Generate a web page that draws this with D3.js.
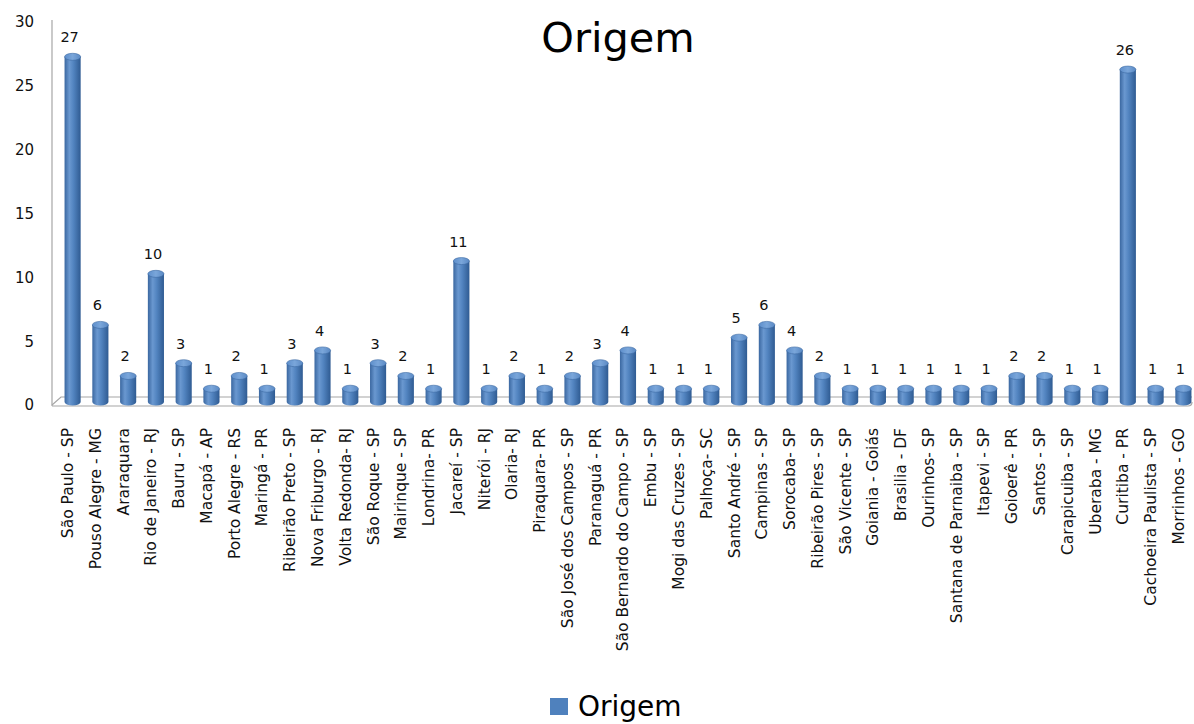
<!DOCTYPE html>
<html>
<head>
<meta charset="utf-8">
<script src="https://cdn.jsdelivr.net/npm/d3@7"></script>
<style>
  html, body { margin: 0; padding: 0; background: #fff; }
  svg { display: block; font-family: "DejaVu Sans", sans-serif; }
</style>
</head>
<body>
<svg id="chart" width="1194" height="724"></svg>
<script>
// Cities of origin and their counts
const categories = [
  "São Paulo - SP", "Pouso Alegre - MG", "Araraquara", "Rio de Janeiro - RJ",
  "Bauru - SP", "Macapá - AP", "Porto Alegre - RS", "Maringá - PR",
  "Ribeirão Preto - SP", "Nova Friburgo - RJ", "Volta Redonda- RJ", "São Roque - SP",
  "Mairinque - SP", "Londrina- PR", "Jacareí - SP", "Niterói - RJ",
  "Olaria- RJ", "Piraquara- PR", "São José  dos Campos - SP", "Paranaguá - PR",
  "São Bernardo do Campo - SP", "Embu - SP", "Mogi das Cruzes - SP", "Palhoça- SC",
  "Santo André - SP", "Campinas - SP", "Sorocaba- SP", "Ribeirão Pires - SP",
  "São Vicente - SP", "Goiania - Goiás", "Brasilia - DF", "Ourinhos- SP",
  "Santana de Parnaiba - SP", "Itapevi - SP", "Goioerê - PR", "Santos - SP",
  "Carapicuiba - SP", "Uberaba - MG", "Curitiba - PR", "Cachoeira Paulista - SP",
  "Morrinhos - GO"
];
const values = [
  27, 6, 2, 10, 3, 1, 2, 1, 3, 4, 1, 3, 2, 1, 11, 1, 2, 1, 2, 3,
  4, 1, 1, 1, 5, 6, 4, 2, 1, 1, 1, 1, 1, 1, 2, 2, 1, 1, 26, 1, 1
];
const yTicks = [0, 5, 10, 15, 20, 25, 30];
const seriesName = "Origem";

const svg = d3.select("#chart");

// Axis frame
const plotLeft = 52, plotRight = 1192, plotBottom = 405, plotTop = 22;
const depth = 7; // offset of the back plane (pseudo-3D floor)

const x = d3.scaleBand()
  .domain(categories)
  .range([59, 1197])
  .paddingInner(0.42)
  .paddingOuter(0.2);

const y = d3.scaleLinear().domain([0, 30]).range([plotBottom, plotTop]);

// Gradients for the cylinders
const defs = svg.append("defs");
const grad = defs.append("linearGradient").attr("id", "cyl").attr("x1", "0").attr("x2", "1").attr("y1", "0").attr("y2", "0");
[["0%", "#3a67a0"], ["30%", "#6a98d0"], ["55%", "#5284c0"], ["100%", "#2f5b92"]]
  .forEach(([o, c]) => grad.append("stop").attr("offset", o).attr("stop-color", c));
const gradTop = defs.append("linearGradient").attr("id", "cylTop").attr("x1", "0").attr("x2", "1");
[["0%", "#5d8ecb"], ["50%", "#7aa6da"], ["100%", "#5a89c4"]]
  .forEach(([o, c]) => gradTop.append("stop").attr("offset", o).attr("stop-color", c));

// Vertical axis line
svg.append("line")
  .attr("x1", plotLeft).attr("x2", plotLeft)
  .attr("y1", plotTop - 2).attr("y2", plotBottom + 1)
  .attr("stroke", "#a6a6a6").attr("stroke-width", 1.2);

// Floor: back edge, front edge and the slanted left side
const floor = svg.append("g").attr("stroke", "#a6a6a6").attr("fill", "none").attr("stroke-width", 1.2);
floor.append("path")
  .attr("d", `M${plotLeft},${plotBottom} L${plotLeft + 9},${plotBottom - depth - 1} L${plotRight},${plotBottom - depth - 1}`);
floor.append("path")
  .attr("d", `M${plotLeft},${plotBottom + 1} L${plotRight - 4},${plotBottom + 1} Q${plotRight},${plotBottom + 1} ${plotRight},${plotBottom - 3}`);

// Y tick labels
svg.append("g")
  .selectAll("text")
  .data(yTicks)
  .join("text")
  .attr("x", 34)
  .attr("y", d => y(d))
  .attr("dy", "0.36em")
  .attr("text-anchor", "end")
  .attr("font-size", 15)
  .attr("fill", "#111")
  .text(d => d);

// Cylindrical bars
const bw = x.bandwidth();
const ry = 3.5;
const bars = svg.append("g").selectAll("g").data(values).join("g");
bars.append("path")
  .attr("fill", "url(#cyl)")
  .attr("d", (d, i) => {
    const x0 = x(categories[i]), x1 = x0 + bw;
    const yt = y(d) - depth + ry;
    const yb = plotBottom - 3;
    return `M${x0},${yt} L${x0},${yb} A${bw / 2},${ry} 0 0 0 ${x1},${yb} L${x1},${yt} Z`;
  });
bars.append("ellipse")
  .attr("cx", (d, i) => x(categories[i]) + bw / 2)
  .attr("cy", d => y(d) - depth + ry)
  .attr("rx", bw / 2)
  .attr("ry", ry)
  .attr("fill", "url(#cylTop)")
  .attr("stroke", "#3d6aa3")
  .attr("stroke-width", 0.6);

// Value labels
svg.append("g")
  .selectAll("text")
  .data(values)
  .join("text")
  .attr("x", (d, i) => x(categories[i]) + bw / 2 - 3)
  .attr("y", d => y(d) - depth - 11)
  .attr("text-anchor", "middle")
  .attr("font-size", 14.5)
  .attr("fill", "#111")
  .text(d => d);

// Category labels, rotated
svg.append("g")
  .selectAll("text")
  .data(categories)
  .join("text")
  .attr("transform", d => `translate(${x(d) + bw / 2 - 5},${428}) rotate(-90)`)
  .attr("dy", "0.35em")
  .attr("text-anchor", "end")
  .attr("font-size", 15.5)
  .attr("fill", "#111")
  .text(d => d);

// Title
svg.append("text")
  .attr("x", 618).attr("y", 52)
  .attr("text-anchor", "middle")
  .attr("font-size", 41.5)
  .attr("fill", "#000")
  .text(seriesName);

// Legend
const legend = svg.append("g");
legend.append("rect")
  .attr("x", 550).attr("y", 698).attr("width", 18).attr("height", 17)
  .attr("fill", "#4f81bd");
legend.append("text")
  .attr("x", 578).attr("y", 716)
  .attr("font-size", 28)
  .attr("fill", "#000")
  .text(seriesName);
</script>
</body>
</html>
